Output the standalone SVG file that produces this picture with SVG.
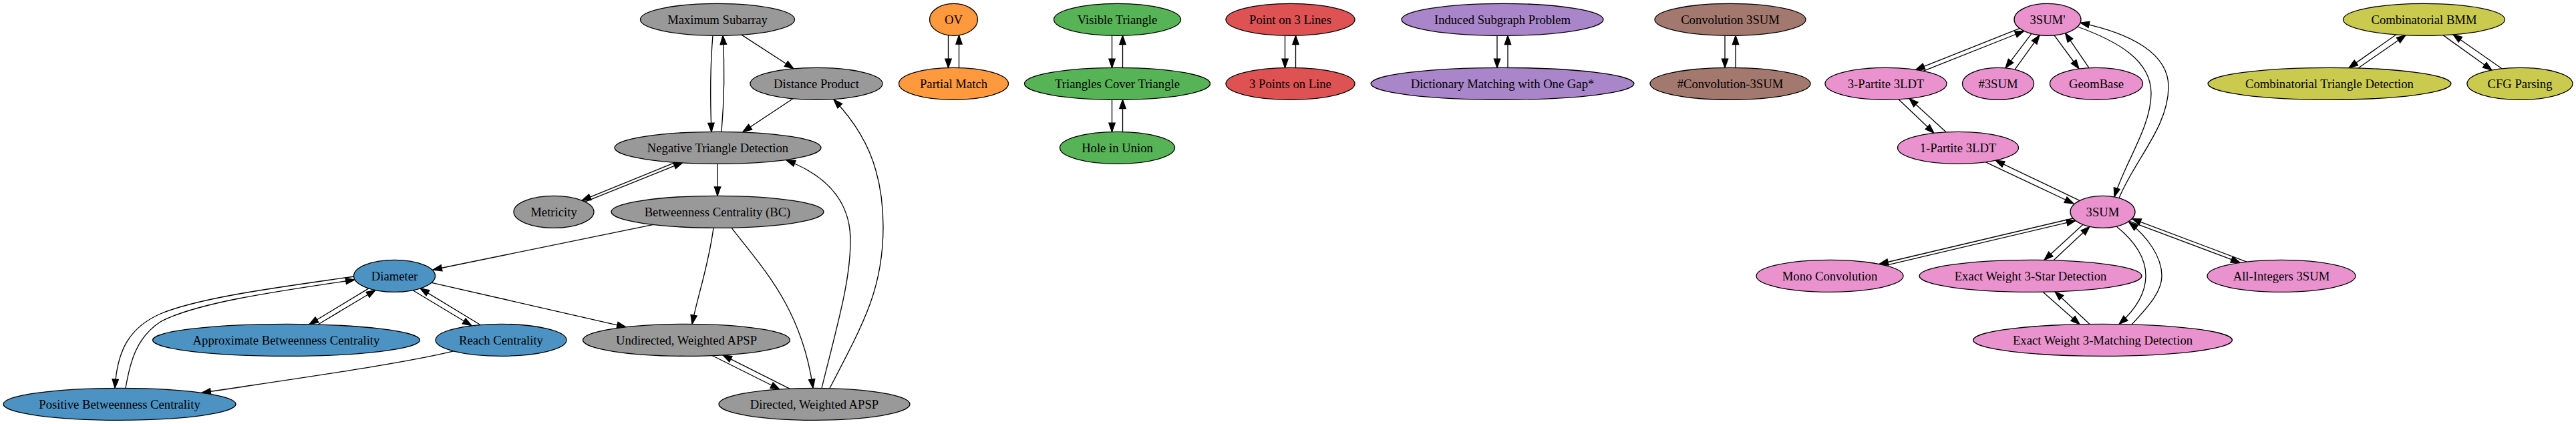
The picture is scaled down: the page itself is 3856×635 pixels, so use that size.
<svg xmlns="http://www.w3.org/2000/svg" width="3856" height="635" viewBox="0 0 3856 635">
<style>
.n ellipse{stroke:#000;stroke-width:1.33}
.n text{font-family:"Liberation Serif","Times New Roman",Times,serif;font-size:18.67px;text-anchor:middle;fill:#000}
.gray{fill:#999999}.blue{fill:#4c92c3}.orange{fill:#ff993e}.green{fill:#56b356}.red{fill:#de5253}.purple{fill:#a985ca}.brown{fill:#a3786f}.pink{fill:#e992ce}.olive{fill:#c9ca4e}
#edges path{fill:none;stroke:#000;stroke-width:1.33;marker-end:url(#ah)}
</style>
<defs>
<marker id="ah" markerUnits="userSpaceOnUse" viewBox="-1 -1 15.5 11.34" markerWidth="15.5" markerHeight="11.34" refX="13.33" refY="4.67" orient="auto">
<path d="M0,0 L13.33,4.67 L0,9.34 Z" fill="#000" stroke="#000" stroke-width="1.33"/>
</marker>
</defs>
<rect width="3856" height="635" fill="#fff"/>
<g id="edges">
<path d="M1067,53.2 C1063,100 1063,150 1065,197.6"/>
<path d="M1080,197.6 C1084,150 1085,100 1082,53.2"/>
<path d="M1110,52.1 L1188,102.8"/>
<path d="M1187,147.7 L1112,197.5"/>
<path d="M1011,243.2 L871,300.2"/>
<path d="M876,302.2 L1022,243.4"/>
<path d="M1074,245.3 L1074,293.3"/>
<path d="M978,336.4 L648,404"/>
<path d="M1068,341.3 C1060,400 1045,440 1036,485.3"/>
<path d="M1095,341.1 C1140,400 1200,460 1217,581.3"/>
<path d="M1230,581.4 C1255,480 1273,420 1273,360 C1273,300 1235,262 1177,240"/>
<path d="M1242,581.4 C1295,480 1322,430 1322,340 C1322,250 1292,195 1248,149"/>
<path d="M1066,532.5 L1167,583"/>
<path d="M1182,582.1 L1082,531.8"/>
<path d="M646,423.3 L937,489.8"/>
<path d="M552,431.9 L463,485.7"/>
<path d="M476,486 L562,434.5"/>
<path d="M618,434.7 L706,487.8"/>
<path d="M719,486.5 L629,431.9"/>
<path d="M530,414 C420,430 300,445 240,470 C190,492 175,530 172,581.3"/>
<path d="M188,581.3 C195,540 205,505 240,482 C290,455 400,438 531,419"/>
<path d="M679,525.9 C600,545 450,566 302,588.3"/>
<path d="M1419.5,52.8 L1419.5,101.6"/>
<path d="M1435.5,101.6 L1435.5,52.8"/>
<path d="M1664.5,53.2 L1664.5,101.5"/>
<path d="M1680.5,101.5 L1680.5,53.2"/>
<path d="M1664.5,149.2 L1664.5,197.5"/>
<path d="M1680.5,197.5 L1680.5,149.2"/>
<path d="M1923.5,53.2 L1923.5,101.5"/>
<path d="M1939.5,101.5 L1939.5,53.2"/>
<path d="M2241,53.2 L2241,101.5"/>
<path d="M2257,101.5 L2257,53.2"/>
<path d="M2582,53.2 L2582,101.5"/>
<path d="M2598,101.5 L2598,53.2"/>
<path d="M3023,42.6 L2867.6,104.4"/>
<path d="M2879,106.3 L3029.8,46.5"/>
<path d="M3041,50.3 L3002,101.8"/>
<path d="M3016,104.1 L3053,52.6"/>
<path d="M3075,52.8 L3112,103"/>
<path d="M3127,101.6 L3091.5,49.7"/>
<path d="M2842,148.8 L2895,199.3"/>
<path d="M2913,197.8 L2858,147.5"/>
<path d="M2972,242.7 L3104,305"/>
<path d="M3113,300.4 L2987,240.2"/>
<path d="M3103,327 L2813,395.5"/>
<path d="M2822,397.6 L3107,330.4"/>
<path d="M3118,336.3 L3060,389.5"/>
<path d="M3074,389.8 L3128,339.3"/>
<path d="M3187,331.2 L3353,393.4"/>
<path d="M3363,392.1 L3191.5,327.6"/>
<path d="M3168,339 C3200,365 3212,390 3212,413 C3212,440 3195,465 3172,485.5"/>
<path d="M3191,485.9 C3220,455 3236,435 3236,413 C3236,385 3215,355 3187,333"/>
<path d="M3058,437.2 L3113,485.7"/>
<path d="M3128,485.4 L3076,436.7"/>
<path d="M3110,40 C3170,62 3220,90 3220,140 C3220,190 3180,245 3165,294.9"/>
<path d="M3172,296.6 C3195,240 3246,190 3246,130 C3246,80 3190,50 3114,34.1"/>
<path d="M3587,51.8 L3516,101.6"/>
<path d="M3530,102 L3601,52.7"/>
<path d="M3657,52.6 L3730,105"/>
<path d="M3745,102.7 L3672,51.7"/>
</g>
<g id="n-maximum-subarray" class="n"><ellipse class="gray" cx="1074" cy="29.33" rx="115.5" ry="24"/><text x="1074" y="35.5">Maximum Subarray</text></g>
<g id="n-distance-product" class="n"><ellipse class="gray" cx="1222" cy="125.33" rx="99" ry="24"/><text x="1222" y="131.5">Distance Product</text></g>
<g id="n-negative-triangle" class="n"><ellipse class="gray" cx="1074.5" cy="221.33" rx="154.5" ry="24"/><text x="1074.5" y="227.5">Negative Triangle Detection</text></g>
<g id="n-metricity" class="n"><ellipse class="gray" cx="829" cy="317.33" rx="60" ry="24"/><text x="829" y="323.5">Metricity</text></g>
<g id="n-bc" class="n"><ellipse class="gray" cx="1074" cy="317.33" rx="159" ry="24"/><text x="1074" y="323.5">Betweenness Centrality (BC)</text></g>
<g id="n-diameter" class="n"><ellipse class="blue" cx="590.5" cy="413.33" rx="61" ry="24"/><text x="590.5" y="419.5">Diameter</text></g>
<g id="n-approx-bc" class="n"><ellipse class="blue" cx="428.5" cy="509.33" rx="200" ry="24"/><text x="428.5" y="515.5">Approximate Betweenness Centrality</text></g>
<g id="n-reach" class="n"><ellipse class="blue" cx="750" cy="509.33" rx="98" ry="24"/><text x="750" y="515.5">Reach Centrality</text></g>
<g id="n-undirected-apsp" class="n"><ellipse class="gray" cx="1027.5" cy="509.33" rx="155" ry="24"/><text x="1027.5" y="515.5">Undirected, Weighted APSP</text></g>
<g id="n-positive-bc" class="n"><ellipse class="blue" cx="179" cy="605.33" rx="174" ry="24"/><text x="179" y="611.5">Positive Betweenness Centrality</text></g>
<g id="n-directed-apsp" class="n"><ellipse class="gray" cx="1219" cy="605.33" rx="143" ry="24"/><text x="1219" y="611.5">Directed, Weighted APSP</text></g>
<g id="n-ov" class="n"><ellipse class="orange" cx="1427.5" cy="29.33" rx="36" ry="24"/><text x="1427.5" y="35.5">OV</text></g>
<g id="n-partial-match" class="n"><ellipse class="orange" cx="1427.5" cy="125.33" rx="82" ry="24"/><text x="1427.5" y="131.5">Partial Match</text></g>
<g id="n-visible-triangle" class="n"><ellipse class="green" cx="1672.5" cy="29.33" rx="95" ry="24"/><text x="1672.5" y="35.5">Visible Triangle</text></g>
<g id="n-triangles-cover" class="n"><ellipse class="green" cx="1672.5" cy="125.33" rx="139" ry="24"/><text x="1672.5" y="131.5">Triangles Cover Triangle</text></g>
<g id="n-hole-union" class="n"><ellipse class="green" cx="1672.5" cy="221.33" rx="86" ry="24"/><text x="1672.5" y="227.5">Hole in Union</text></g>
<g id="n-point-3-lines" class="n"><ellipse class="red" cx="1931.5" cy="29.33" rx="96.5" ry="24"/><text x="1931.5" y="35.5">Point on 3 Lines</text></g>
<g id="n-3-points-line" class="n"><ellipse class="red" cx="1931.5" cy="125.33" rx="96.5" ry="24"/><text x="1931.5" y="131.5">3 Points on Line</text></g>
<g id="n-induced-subgraph" class="n"><ellipse class="purple" cx="2249" cy="29.33" rx="151" ry="24"/><text x="2249" y="35.5">Induced Subgraph Problem</text></g>
<g id="n-dictionary-matching" class="n"><ellipse class="purple" cx="2249" cy="125.33" rx="197" ry="24"/><text x="2249" y="131.5">Dictionary Matching with One Gap*</text></g>
<g id="n-convolution-3sum" class="n"><ellipse class="brown" cx="2590" cy="29.33" rx="113" ry="24"/><text x="2590" y="35.5">Convolution 3SUM</text></g>
<g id="n-count-convolution-3sum" class="n"><ellipse class="brown" cx="2590" cy="125.33" rx="120" ry="24"/><text x="2590" y="131.5">#Convolution-3SUM</text></g>
<g id="n-3sum-prime" class="n"><ellipse class="pink" cx="3065" cy="29.33" rx="50" ry="24"/><text x="3065" y="35.5">3SUM'</text></g>
<g id="n-3partite-3ldt" class="n"><ellipse class="pink" cx="2823" cy="125.33" rx="91" ry="24"/><text x="2823" y="131.5">3-Partite 3LDT</text></g>
<g id="n-count-3sum" class="n"><ellipse class="pink" cx="2991" cy="125.33" rx="53.5" ry="24"/><text x="2991" y="131.5">#3SUM</text></g>
<g id="n-geombase" class="n"><ellipse class="pink" cx="3138" cy="125.33" rx="69.5" ry="24"/><text x="3138" y="131.5">GeomBase</text></g>
<g id="n-1partite-3ldt" class="n"><ellipse class="pink" cx="2931" cy="221.33" rx="90.5" ry="24"/><text x="2931" y="227.5">1-Partite 3LDT</text></g>
<g id="n-3sum" class="n"><ellipse class="pink" cx="3147.5" cy="317.33" rx="48.5" ry="24"/><text x="3147.5" y="323.5">3SUM</text></g>
<g id="n-mono-convolution" class="n"><ellipse class="pink" cx="2739" cy="413.33" rx="110" ry="24"/><text x="2739" y="419.5">Mono Convolution</text></g>
<g id="n-3star" class="n"><ellipse class="pink" cx="3039.5" cy="413.33" rx="166.5" ry="24"/><text x="3039.5" y="419.5">Exact Weight 3-Star Detection</text></g>
<g id="n-all-integers" class="n"><ellipse class="pink" cx="3415" cy="413.33" rx="111" ry="24"/><text x="3415" y="419.5">All-Integers 3SUM</text></g>
<g id="n-3matching" class="n"><ellipse class="pink" cx="3147.5" cy="509.33" rx="194" ry="24"/><text x="3147.5" y="515.5">Exact Weight 3-Matching Detection</text></g>
<g id="n-combinatorial-bmm" class="n"><ellipse class="olive" cx="3628.5" cy="29.33" rx="121" ry="24"/><text x="3628.5" y="35.5">Combinatorial BMM</text></g>
<g id="n-combinatorial-td" class="n"><ellipse class="olive" cx="3487" cy="125.33" rx="182" ry="24"/><text x="3487" y="131.5">Combinatorial Triangle Detection</text></g>
<g id="n-cfg-parsing" class="n"><ellipse class="olive" cx="3772" cy="125.33" rx="79" ry="24"/><text x="3772" y="131.5">CFG Parsing</text></g>
</svg>
